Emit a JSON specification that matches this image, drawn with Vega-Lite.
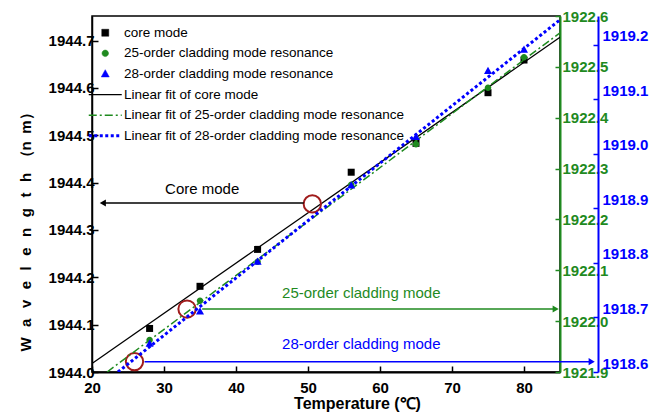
{
  "$schema": "https://vega.github.io/schema/vega-lite/v6.json",
  "width": 468,
  "height": 356,
  "autosize": "none",
  "padding": {"left": 92, "top": 16, "right": 104, "bottom": 44},
  "background": "white",
  "config": {
    "view": {"stroke": "black", "strokeWidth": 1.5},
    "font": "Liberation Sans, Arial, sans-serif"
  },
  "datasets": {
    "pts": [
      {"series": "core mode", "temp": 28, "value": 1944.092},
      {"series": "core mode", "temp": 35, "value": 1944.181},
      {"series": "core mode", "temp": 43, "value": 1944.259},
      {"series": "core mode", "temp": 56, "value": 1944.422},
      {"series": "core mode", "temp": 65, "value": 1944.483},
      {"series": "core mode", "temp": 75, "value": 1944.59},
      {"series": "core mode", "temp": 80, "value": 1944.659},
      {"series": "25-order cladding mode resonance", "temp": 28, "value": 1921.963},
      {"series": "25-order cladding mode resonance", "temp": 35, "value": 1922.04},
      {"series": "25-order cladding mode resonance", "temp": 43, "value": 1922.117},
      {"series": "25-order cladding mode resonance", "temp": 56, "value": 1922.268},
      {"series": "25-order cladding mode resonance", "temp": 65, "value": 1922.348},
      {"series": "25-order cladding mode resonance", "temp": 75, "value": 1922.459},
      {"series": "25-order cladding mode resonance", "temp": 80, "value": 1922.519},
      {"series": "28-order cladding mode resonance", "temp": 28, "value": 1918.652},
      {"series": "28-order cladding mode resonance", "temp": 35, "value": 1918.711},
      {"series": "28-order cladding mode resonance", "temp": 43, "value": 1918.802},
      {"series": "28-order cladding mode resonance", "temp": 56, "value": 1918.942},
      {"series": "28-order cladding mode resonance", "temp": 65, "value": 1919.031},
      {"series": "28-order cladding mode resonance", "temp": 75, "value": 1919.152},
      {"series": "28-order cladding mode resonance", "temp": 80, "value": 1919.191}
    ],
    "fits": [
      {"series": "Linear fit of core mode", "temp": 20, "value": 1944.018},
      {"series": "Linear fit of core mode", "temp": 85, "value": 1944.707},
      {"series": "Linear fit of 25-order cladding mode resonance", "temp": 22.1, "value": 1921.9},
      {"series": "Linear fit of 25-order cladding mode resonance", "temp": 85, "value": 1922.567},
      {"series": "Linear fit of 28-order cladding mode resonance", "temp": 23.6, "value": 1918.6},
      {"series": "Linear fit of 28-order cladding mode resonance", "temp": 85, "value": 1919.246}
    ],
    "circles": [
      {"temp": 25.9, "value": 1944.022},
      {"temp": 33.2, "value": 1944.133},
      {"temp": 50.6, "value": 1944.355}
    ],
    "arrows": [
      {"axis": "core", "temp": 21.5, "temp2": 49.4, "value": 1944.357},
      {"axis": "c25", "temp": 35.3, "temp2": 84.4, "value": 1922.024},
      {"axis": "c28", "temp": 27.3, "temp2": 89.4, "value": 1918.619}
    ],
    "notes": [
      {"axis": "core", "text": "Core mode", "temp": 35.3, "value": 1944.386},
      {"axis": "c25", "text": "25-order cladding mode", "temp": 57.4, "value": 1922.055},
      {"axis": "c28", "text": "28-order cladding mode", "temp": 57.4, "value": 1918.652}
    ]
  },
  "layer": [
    {
      "layer": [
        {
          "data": {"name": "fits"},
          "transform": [{"filter": "datum.series == 'Linear fit of core mode'"}],
          "mark": {"type": "line", "clip": true, "strokeWidth": 1.3},
          "encoding": {
            "x": {
              "field": "temp", "type": "quantitative",
              "scale": {"domain": [20, 85], "nice": false, "zero": false},
              "axis": {
                "values": [20, 25, 30, 35, 40, 45, 50, 55, 60, 65, 70, 75, 80],
                "labelExpr": "datum.value % 10 == 0 ? datum.label : ''",
                "grid": false,
                "domainColor": "black", "domainWidth": 2,
                "tickColor": "black", "tickWidth": 1.5, "tickSize": -6,
                "labelFontSize": 15, "labelFontWeight": "bold", "labelColor": "black",
                "labelPadding": 14, "labelFlush": false, "labelOverlap": false,
                "title": "Temperature (℃)",
                "titleFontSize": 16, "titleFontWeight": "bold", "titleColor": "black",
                "titleX": 265, "titleY": 31, "titleAlign": "center", "titleBaseline": "middle"
              }
            },
            "y": {
              "field": "value", "type": "quantitative",
              "scale": {"domain": [1944.0, 1944.752], "nice": false, "zero": false},
              "axis": {
                "orient": "left",
                "values": [1944.0, 1944.05, 1944.1, 1944.15, 1944.2, 1944.25, 1944.3, 1944.35, 1944.4, 1944.45, 1944.5, 1944.55, 1944.6, 1944.65, 1944.7, 1944.75],
                "labelExpr": "abs(datum.value*10 - round(datum.value*10)) < 0.001 ? format(datum.value, '.1f') : ''",
                "grid": false,
                "domainColor": "black", "domainWidth": 1.5,
                "tickColor": "black", "tickWidth": 1.5, "tickSize": -6,
                "labelFontSize": 15, "labelFontWeight": "bold", "labelColor": "black",
                "labelPadding": 4, "labelFlush": false, "labelOverlap": false,
                "title": "W\u2002\u2009a\u2002\u2009v\u2002\u2009e\u2002\u2009l\u2002\u2009e\u2002\u2009n\u2002\u2009g\u2002\u2009t\u2002\u2009h\u2002（n\u2002m）",
                "titleFontSize": 15, "titleFontWeight": "bold", "titleColor": "black",
                "titleX": -67, "titleY": 212, "titleAlign": "center", "titleBaseline": "middle", "titleAngle": -90
              }
            },
            "color": {
              "field": "series", "type": "nominal",
              "scale": {
                "domain": ["core mode", "25-order cladding mode resonance", "28-order cladding mode resonance", "Linear fit of core mode", "Linear fit of 25-order cladding mode resonance", "Linear fit of 28-order cladding mode resonance"],
                "range": ["#000000", "#1f8a1f", "#0000ff", "#000000", "#1f8a1f", "#0000ff"]
              },
              "legend": {
                "orient": "none", "legendX": 6.5, "legendY": 10,
                "title": null, "padding": 0, "rowPadding": 5.6,
                "symbolSize": 100, "symbolOpacity": 1, "labelOffset": 12,
                "labelFontSize": 13.5, "labelColor": "black", "labelLimit": 500,
                "encode": {
                  "symbols": {
                    "update": {
                      "shape": {"scale": "shape", "field": "value"},
                      "fill": {"scale": "color", "field": "value"},
                      "stroke": {"scale": "color", "field": "value"},
                      "strokeDash": {"signal": "datum.value == 'Linear fit of 25-order cladding mode resonance' ? [8, 3, 2, 3] : datum.value == 'Linear fit of 28-order cladding mode resonance' ? [3, 2.5] : [1, 0]"},
                      "strokeWidth": {"signal": "datum.value == 'Linear fit of 28-order cladding mode resonance' ? 3 : datum.value == 'Linear fit of 25-order cladding mode resonance' ? 1.5 : datum.value == 'Linear fit of core mode' ? 1.3 : 0.5"},
                      "size": {"value": 100},
                      "opacity": {"value": 1}
                    }
                  }
                }
              }
            }
          }
        },
        {
          "data": {"name": "pts"},
          "transform": [{"filter": "datum.series == 'core mode'"}],
          "mark": {"type": "point", "filled": true, "opacity": 1, "size": 100},
          "encoding": {
            "x": {"field": "temp", "type": "quantitative"},
            "y": {"field": "value", "type": "quantitative"},
            "color": {"field": "series", "type": "nominal"},
            "shape": {
              "field": "series", "type": "nominal", "legend": null,
              "scale": {
                "domain": ["core mode", "25-order cladding mode resonance", "28-order cladding mode resonance", "Linear fit of core mode", "Linear fit of 25-order cladding mode resonance", "Linear fit of 28-order cladding mode resonance"],
                "range": ["M-0.7,-0.7H0.7V0.7H-0.7Z", "M-0.65,0A0.65,0.65,0,1,0,0.65,0A0.65,0.65,0,1,0,-0.65,0Z", "M0,-0.85L0.8,0.6L-0.8,0.6Z", "M-3.3,0L3.3,0", "M-3.3,0L3.3,0", "M-3.3,0L3.3,0"]
              }
            }
          }
        },
        {
          "data": {"name": "circles"},
          "mark": {"type": "point", "shape": "circle", "filled": false, "size": 300, "stroke": "#a01c1c", "strokeWidth": 2, "opacity": 1},
          "encoding": {
            "x": {"field": "temp", "type": "quantitative"},
            "y": {"field": "value", "type": "quantitative"}
          }
        },
        {
          "data": {"name": "arrows"},
          "transform": [{"filter": "datum.axis == 'core'"}],
          "mark": {"type": "rule", "color": "black", "strokeWidth": 1.5},
          "encoding": {
            "x": {"field": "temp", "type": "quantitative"},
            "x2": {"field": "temp2"},
            "y": {"field": "value", "type": "quantitative"}
          }
        },
        {
          "data": {"name": "arrows"},
          "transform": [{"filter": "datum.axis == 'core'"}],
          "mark": {"type": "point", "shape": "triangle-left", "filled": true, "color": "black", "size": 50, "opacity": 1},
          "encoding": {
            "x": {"field": "temp", "type": "quantitative"},
            "y": {"field": "value", "type": "quantitative"}
          }
        },
        {
          "data": {"name": "notes"},
          "transform": [{"filter": "datum.axis == 'core'"}],
          "mark": {"type": "text", "fontSize": 15, "color": "black", "align": "center", "baseline": "middle"},
          "encoding": {
            "x": {"field": "temp", "type": "quantitative"},
            "y": {"field": "value", "type": "quantitative"},
            "text": {"field": "text"}
          }
        }
      ]
    },
    {
      "layer": [
        {
          "data": {"name": "fits"},
          "transform": [{"filter": "datum.series == 'Linear fit of 25-order cladding mode resonance'"}],
          "mark": {"type": "line", "clip": true, "strokeWidth": 1.5, "strokeDash": [8, 3, 2, 3]},
          "encoding": {
            "x": {"field": "temp", "type": "quantitative"},
            "y": {
              "field": "value", "type": "quantitative",
              "scale": {"domain": [1921.9, 1922.6], "nice": false, "zero": false},
              "axis": {
                "orient": "right",
                "values": [1921.9, 1921.95, 1922.0, 1922.05, 1922.1, 1922.15, 1922.2, 1922.25, 1922.3, 1922.35, 1922.4, 1922.45, 1922.5, 1922.55, 1922.6],
                "labelExpr": "abs(datum.value*10 - round(datum.value*10)) < 0.001 ? format(datum.value, '.1f') : ''",
                "grid": false,
                "domainColor": "#1f8a1f", "domainWidth": 2,
                "tickColor": "#1f8a1f", "tickWidth": 1.5, "tickSize": -5,
                "labelFontSize": 15, "labelFontWeight": "bold", "labelColor": "#1f8a1f",
                "labelPadding": 7, "labelFlush": false, "labelOverlap": false,
                "title": null
              }
            },
            "color": {
              "field": "series", "type": "nominal",
              "scale": {
                "domain": ["core mode", "25-order cladding mode resonance", "28-order cladding mode resonance", "Linear fit of core mode", "Linear fit of 25-order cladding mode resonance", "Linear fit of 28-order cladding mode resonance"],
                "range": ["#000000", "#1f8a1f", "#0000ff", "#000000", "#1f8a1f", "#0000ff"]
              }
            }
          }
        },
        {
          "data": {"name": "pts"},
          "transform": [{"filter": "datum.series == '25-order cladding mode resonance'"}],
          "mark": {"type": "point", "filled": true, "opacity": 1, "size": 100},
          "encoding": {
            "x": {"field": "temp", "type": "quantitative"},
            "y": {"field": "value", "type": "quantitative"},
            "color": {"field": "series", "type": "nominal"},
            "shape": {"field": "series", "type": "nominal", "legend": null}
          }
        },
        {
          "data": {"name": "arrows"},
          "transform": [{"filter": "datum.axis == 'c25'"}],
          "mark": {"type": "rule", "color": "#1f8a1f", "strokeWidth": 1.5},
          "encoding": {
            "x": {"field": "temp", "type": "quantitative"},
            "x2": {"field": "temp2"},
            "y": {"field": "value", "type": "quantitative"}
          }
        },
        {
          "data": {"name": "arrows"},
          "transform": [{"filter": "datum.axis == 'c25'"}],
          "mark": {"type": "point", "shape": "triangle-right", "filled": true, "color": "#1f8a1f", "size": 50, "opacity": 1},
          "encoding": {
            "x": {"field": "temp2", "type": "quantitative"},
            "y": {"field": "value", "type": "quantitative"}
          }
        },
        {
          "data": {"name": "notes"},
          "transform": [{"filter": "datum.axis == 'c25'"}],
          "mark": {"type": "text", "fontSize": 15, "color": "#1f8a1f", "align": "center", "baseline": "middle"},
          "encoding": {
            "x": {"field": "temp", "type": "quantitative"},
            "y": {"field": "value", "type": "quantitative"},
            "text": {"field": "text"}
          }
        }
      ]
    },
    {
      "layer": [
        {
          "data": {"name": "fits"},
          "transform": [{"filter": "datum.series == 'Linear fit of 28-order cladding mode resonance'"}],
          "mark": {"type": "line", "clip": true, "strokeWidth": 3, "strokeDash": [3, 2.5]},
          "encoding": {
            "x": {"field": "temp", "type": "quantitative"},
            "y": {
              "field": "value", "type": "quantitative",
              "scale": {"domain": [1918.6, 1919.253], "nice": false, "zero": false},
              "axis": {
                "orient": "right", "offset": 38,
                "values": [1918.6, 1918.65, 1918.7, 1918.75, 1918.8, 1918.85, 1918.9, 1918.95, 1919.0, 1919.05, 1919.1, 1919.15, 1919.2, 1919.25],
                "labelExpr": "abs(datum.value*10 - round(datum.value*10)) < 0.001 ? format(datum.value, '.1f') : ''",
                "grid": false,
                "domainColor": "#0000ff", "domainWidth": 2,
                "tickColor": "#0000ff", "tickWidth": 1.5, "tickSize": -5,
                "labelFontSize": 15, "labelFontWeight": "bold", "labelColor": "#0000ff",
                "labelPadding": 9, "labelOffset": -9, "labelFlush": false, "labelOverlap": false,
                "title": null
              }
            },
            "color": {
              "field": "series", "type": "nominal",
              "scale": {
                "domain": ["core mode", "25-order cladding mode resonance", "28-order cladding mode resonance", "Linear fit of core mode", "Linear fit of 25-order cladding mode resonance", "Linear fit of 28-order cladding mode resonance"],
                "range": ["#000000", "#1f8a1f", "#0000ff", "#000000", "#1f8a1f", "#0000ff"]
              }
            }
          }
        },
        {
          "data": {"name": "pts"},
          "transform": [{"filter": "datum.series == '28-order cladding mode resonance'"}],
          "mark": {"type": "point", "filled": true, "opacity": 1, "size": 100},
          "encoding": {
            "x": {"field": "temp", "type": "quantitative"},
            "y": {"field": "value", "type": "quantitative"},
            "color": {"field": "series", "type": "nominal"},
            "shape": {"field": "series", "type": "nominal", "legend": null}
          }
        },
        {
          "data": {"name": "arrows"},
          "transform": [{"filter": "datum.axis == 'c28'"}],
          "mark": {"type": "rule", "color": "#0000ff", "strokeWidth": 1.5, "clip": false},
          "encoding": {
            "x": {"field": "temp", "type": "quantitative"},
            "x2": {"field": "temp2"},
            "y": {"field": "value", "type": "quantitative"}
          }
        },
        {
          "data": {"name": "arrows"},
          "transform": [{"filter": "datum.axis == 'c28'"}],
          "mark": {"type": "point", "shape": "triangle-right", "filled": true, "color": "#0000ff", "size": 50, "opacity": 1, "clip": false},
          "encoding": {
            "x": {"field": "temp2", "type": "quantitative"},
            "y": {"field": "value", "type": "quantitative"}
          }
        },
        {
          "data": {"name": "notes"},
          "transform": [{"filter": "datum.axis == 'c28'"}],
          "mark": {"type": "text", "fontSize": 15, "color": "#0000ff", "align": "center", "baseline": "middle"},
          "encoding": {
            "x": {"field": "temp", "type": "quantitative"},
            "y": {"field": "value", "type": "quantitative"},
            "text": {"field": "text"}
          }
        }
      ]
    }
  ],
  "resolve": {"scale": {"y": "independent"}, "axis": {"y": "independent"}}
}
